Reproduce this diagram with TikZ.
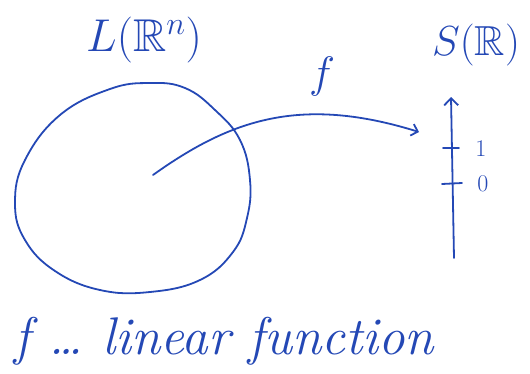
\documentclass[tikz,border=0pt]{standalone}
\usepackage{fix-cm}
\usepackage{amssymb}
\usetikzlibrary{arrows.meta}
\definecolor{pen}{HTML}{2448B5}
\begin{document}
\begin{tikzpicture}[x=1pt,y=-1pt,
  ink/.style={draw=pen,line width=1.8pt,line cap=round,line join=round},
  lbl/.style={text=pen,inner sep=0pt}]
\useasboundingbox (0,0) rectangle (530,373);
% blob
\draw[ink] plot[smooth cycle,tension=0.7] coordinates {
 (185,88) (215,110) (240,140) (250,180) (247,218) (233,252) (200,280)
 (150,292) (100,290) (55,271) (25,240) (15,203) (25,160) (60,115) (110,89) (150,83)};
\node[lbl,font=\fontsize{46}{50}\selectfont] (L) at (144,40) {$L(\mathbb{R}^n)$};
\node[lbl,font=\fontsize{42}{46}\selectfont] (S) at (476,45) {$S(\mathbb{R})$};
% axis
\coordinate (abot) at (454,258);
\coordinate (atop) at (451,97);
\draw[ink,-{Straight Barb[length=7pt,width=14pt]}] (abot) -- (atop);
\coordinate (t1a) at (443,148); \coordinate (t1b) at (459,148);
\coordinate (t0a) at (442,184); \coordinate (t0b) at (462,183);
\draw[ink] (t1a) -- (t1b);
\draw[ink] (t0a) -- (t0b);
\node[lbl,font=\fontsize{24}{26}\selectfont] (one) at (481,149) {1};
\node[lbl,font=\fontsize{24}{26}\selectfont] (zero) at (483,184) {0};
% map arrow
\coordinate (fs) at (153,175);
\coordinate (fe) at (419,132);
\draw[ink,-{Straight Barb[length=6pt,width=12pt]}] (fs) .. controls (230,120) and (300,95) .. (fe);
\node[lbl,font=\fontsize{44}{48}\selectfont] (f) at (322,76) {$f$};
% bottom caption
\node[lbl,anchor=base west,font=\fontsize{53}{58}\selectfont] (cap) at (14,354) {\itshape f \dots\ linear function};
\end{tikzpicture}
\end{document}
